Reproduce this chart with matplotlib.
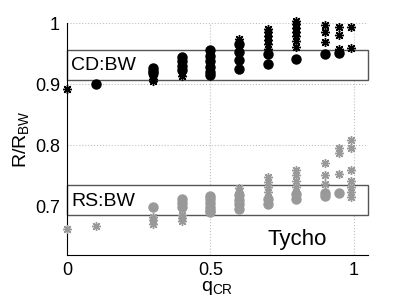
import matplotlib
matplotlib.use("Agg")
import matplotlib.pyplot as plt
from matplotlib.patches import Rectangle

plt.rcParams['font.family'] = ['Liberation Sans', 'DejaVu Sans']

# CD:BW circles (black)
cd_circ_x = [0.1, 0.3, 0.3, 0.3, 0.4, 0.4, 0.4, 0.4,
             0.5, 0.5, 0.5, 0.5, 0.5, 0.5, 0.6, 0.6, 0.6, 0.6,
             0.7, 0.7, 0.8, 0.9, 0.95]
cd_circ_y = [0.900, 0.927, 0.922, 0.918, 0.945, 0.938, 0.930, 0.923,
             0.955, 0.946, 0.937, 0.928, 0.920, 0.915, 0.966, 0.952, 0.939, 0.925,
             0.949, 0.933, 0.941, 0.950, 0.951]
# CD:BW asterisks (black)
cd_star_x = [0.0, 0.1, 0.3, 0.3, 0.3, 0.4, 0.4,
             0.6, 0.6, 0.6, 0.7, 0.7, 0.7, 0.7, 0.7, 0.7,
             0.8, 0.8, 0.8, 0.8, 0.8, 0.8, 0.8,
             0.9, 0.9, 0.9, 0.95, 0.95, 0.95, 0.99, 0.99]
cd_star_y = [0.892, 0.900, 0.914, 0.909, 0.905, 0.919, 0.913,
             0.974, 0.968, 0.962, 0.990, 0.985, 0.978, 0.972, 0.965, 0.958,
             1.003, 0.998, 0.992, 0.985, 0.978, 0.970, 0.960,
             0.997, 0.986, 0.969, 0.994, 0.980, 0.957, 0.993, 0.959]
# RS:BW circles (grey)
rs_circ_x = [0.3, 0.4, 0.4, 0.4, 0.5, 0.5, 0.5, 0.5, 0.5, 0.5,
             0.6, 0.6, 0.6, 0.6, 0.7, 0.7, 0.8, 0.8, 0.9, 0.9, 0.95]
rs_circ_y = [0.698, 0.711, 0.705, 0.698, 0.717, 0.711, 0.705, 0.699, 0.693, 0.690,
             0.718, 0.710, 0.703, 0.696, 0.712, 0.703, 0.720, 0.711, 0.722, 0.717, 0.721]
# RS:BW asterisks (grey)
rs_star_x = [0.0, 0.1, 0.3, 0.3, 0.3, 0.4, 0.4, 0.4,
             0.6, 0.6, 0.7, 0.7, 0.7, 0.7, 0.8, 0.8, 0.8, 0.8,
             0.9, 0.9, 0.9, 0.95, 0.95, 0.95,
             0.99, 0.99, 0.99, 0.99, 0.99, 0.99, 0.99]
rs_star_y = [0.662, 0.667, 0.683, 0.677, 0.671, 0.686, 0.680, 0.675,
             0.729, 0.723, 0.748, 0.740, 0.731, 0.723, 0.759, 0.751, 0.741, 0.731,
             0.770, 0.751, 0.737, 0.795, 0.787, 0.753,
             0.809, 0.795, 0.759, 0.741, 0.732, 0.723, 0.715]

# bands (y ranges)
cd_band = (0.906, 0.955)
rs_band = (0.685, 0.734)

xticks = [0, 0.5, 1]
xticklabels = ['0', '0.5', '1']
yticks = [0.7, 0.8, 0.9, 1.0]
yticklabels = ['0.7', '0.8', '0.9', '1']

fig = plt.figure(figsize=(4.07, 3.07), dpi=100)
ax = fig.add_axes([67/407, 52/307, 301/407, 232/307])
ax.set_xlim(0, 1.05)
ax.set_ylim(0.62, 1.0)

ax.grid(True, linestyle=':', color='#c0c0c0', linewidth=0.8, zorder=0)
ax.set_axisbelow(True)

for lo, hi in (cd_band, rs_band):
    ax.add_patch(Rectangle((0, lo), 1.05, hi - lo, facecolor='white',
                           edgecolor='#555555', linewidth=1.0, zorder=2,
                           clip_on=False))

grey = '#999999'
ax.plot(cd_circ_x, cd_circ_y, 'o', color='black', ms=6.5, ls='none', zorder=3, clip_on=False)
ax.plot(cd_star_x, cd_star_y, marker=(8, 2, 0), color='black', mec='black', ms=6.5,
        mew=1.0, ls='none', zorder=4, clip_on=False)
ax.plot(rs_circ_x, rs_circ_y, 'o', color=grey, ms=6.5, ls='none', zorder=3, clip_on=False)
ax.plot(rs_star_x, rs_star_y, marker=(8, 2, 0), color=grey, mec=grey, ms=6.5,
        mew=1.0, ls='none', zorder=4, clip_on=False)

ax.text(0.015, 0.93, 'CD:BW', fontsize=14, va='center', ha='left', zorder=5)
ax.text(0.015, 0.708, 'RS:BW', fontsize=14, va='center', ha='left', zorder=5)
ax.text(0.70, 0.645, 'Tycho', fontsize=16, va='center', ha='left', zorder=5)

ax.set_xticks(xticks)
ax.set_xticklabels(xticklabels)
ax.set_yticks(yticks)
ax.set_yticklabels(yticklabels)
ax.tick_params(direction='in', length=0, labelsize=13, width=0.6, pad=5)

for s in ('top', 'right'):
    ax.spines[s].set_visible(False)
for s in ('left', 'bottom'):
    ax.spines[s].set_linewidth(0.8)

ax.set_xlabel(r'q$_{\mathregular{CR}}$', fontsize=14, labelpad=0)
ax.set_ylabel(r'R/R$_{\mathregular{BW}}$', fontsize=14, labelpad=2)

fig.savefig('out.png', dpi=100)
